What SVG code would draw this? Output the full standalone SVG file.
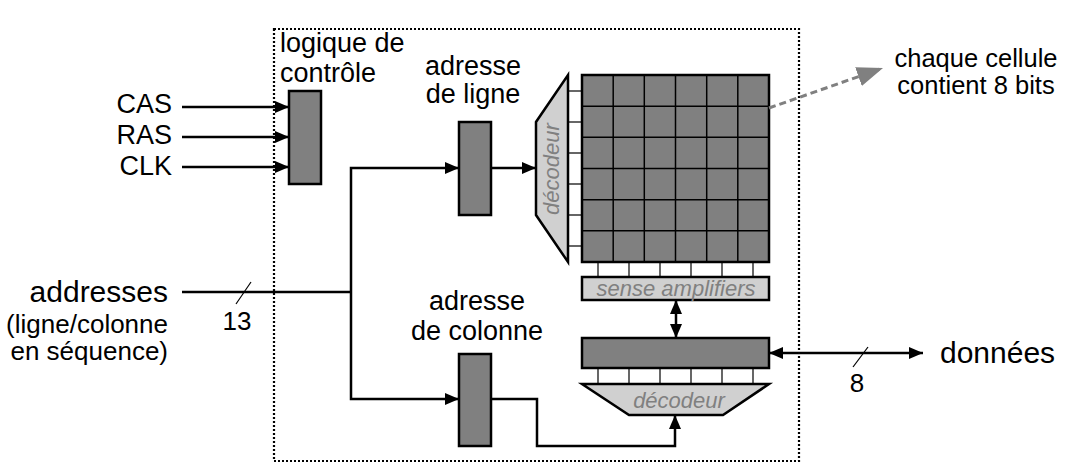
<svg xmlns="http://www.w3.org/2000/svg" width="1070" height="473" viewBox="0 0 1070 473">
<defs>
<style>
.t{font-family:"Liberation Sans",Arial,sans-serif;fill:#000;}
.blk{fill:#808080;stroke:#000;stroke-width:2.5;}
.dec{fill:#d0d0d0;stroke:#000;stroke-width:2.5;}
.it{font-family:"Liberation Sans",Arial,sans-serif;font-style:italic;fill:#808080;font-size:22px;}
.w{fill:none;stroke:#000;stroke-width:2.5;}
.thin{fill:none;stroke:#000;stroke-width:1.2;}
.g{stroke:#000;stroke-width:1.5;}
</style>
<marker id="arr" viewBox="0 0 14 12" refX="14" refY="6" markerWidth="14" markerHeight="12" orient="auto-start-reverse" markerUnits="userSpaceOnUse"><path d="M0,0 L14,6 L0,12 z" fill="#000"/></marker>
<marker id="garr" viewBox="0 0 26 20" refX="26" refY="10" markerWidth="26" markerHeight="20" orient="auto" markerUnits="userSpaceOnUse"><path d="M0,0 L26,10 L0,20 z" fill="#808080"/></marker>
</defs>
<rect width="1070" height="473" fill="#fff"/>

<g id="boundary">
<rect x="274" y="29" width="525" height="432" fill="none" stroke="#000" stroke-width="2.2" stroke-dasharray="2 2"/>
</g>

<g id="inputs">
<text class="t" x="172" y="113" font-size="27" text-anchor="end">CAS</text>
<text class="t" x="172" y="144" font-size="27" text-anchor="end">RAS</text>
<text class="t" x="172" y="175" font-size="27" text-anchor="end">CLK</text>
</g>

<g id="addresses-label">
<text class="t" x="168" y="302" font-size="30" text-anchor="end">addresses</text>
<text class="t" x="168" y="333" font-size="26" text-anchor="end">(ligne/colonne</text>
<text class="t" x="168" y="360" font-size="26" text-anchor="end">en séquence)</text>
<text class="t" x="237" y="330" font-size="26" text-anchor="middle">13</text>
</g>

<g id="control-logic">
<rect class="blk" x="289" y="91" width="32" height="93"/>
<text class="t" x="280" y="52" font-size="27">logique de</text>
<text class="t" x="280" y="82" font-size="27">contrôle</text>
</g>

<g id="row-address">
<rect class="blk" x="459" y="122" width="32" height="93"/>
<text class="t" x="473" y="75" font-size="27" text-anchor="middle">adresse</text>
<text class="t" x="473" y="103" font-size="27" text-anchor="middle">de ligne</text>
</g>

<g id="column-address">
<rect class="blk" x="459" y="354" width="32" height="92"/>
<text class="t" x="477" y="310" font-size="27" text-anchor="middle">adresse</text>
<text class="t" x="477" y="340" font-size="27" text-anchor="middle">de colonne</text>
</g>

<g id="row-decoder">
<g class="thin">
<line x1="568" y1="91" x2="582" y2="91"/>
<line x1="568" y1="122" x2="582" y2="122"/>
<line x1="568" y1="153" x2="582" y2="153"/>
<line x1="568" y1="184" x2="582" y2="184"/>
<line x1="568" y1="215" x2="582" y2="215"/>
<line x1="568" y1="246" x2="582" y2="246"/>
</g>
<path class="dec" d="M568,75 L568,262 L536,215 L536,122 Z"/>
<text class="it" transform="translate(559,169) rotate(-90)" text-anchor="middle">décodeur</text>
</g>

<g id="cell-array">
<rect x="582" y="75" width="187" height="187" fill="#808080"/>
<g class="g">
<line x1="613.2" y1="75" x2="613.2" y2="262"/>
<line x1="644.3" y1="75" x2="644.3" y2="262"/>
<line x1="675.5" y1="75" x2="675.5" y2="262"/>
<line x1="706.7" y1="75" x2="706.7" y2="262"/>
<line x1="737.8" y1="75" x2="737.8" y2="262"/>
<line x1="582" y1="106.2" x2="769" y2="106.2"/>
<line x1="582" y1="137.3" x2="769" y2="137.3"/>
<line x1="582" y1="168.5" x2="769" y2="168.5"/>
<line x1="582" y1="199.7" x2="769" y2="199.7"/>
<line x1="582" y1="230.8" x2="769" y2="230.8"/>
</g>
<rect x="582" y="75" width="187" height="187" fill="none" stroke="#000" stroke-width="2.5"/>
</g>

<g id="sense-amplifiers">
<g class="thin">
<line x1="598" y1="262" x2="598" y2="277"/>
<line x1="629" y1="262" x2="629" y2="277"/>
<line x1="660" y1="262" x2="660" y2="277"/>
<line x1="691" y1="262" x2="691" y2="277"/>
<line x1="722" y1="262" x2="722" y2="277"/>
<line x1="753" y1="262" x2="753" y2="277"/>
</g>
<rect class="dec" x="582" y="277" width="187" height="23"/>
<text class="it" x="676" y="296" text-anchor="middle">sense amplifiers</text>
</g>

<g id="data-register">
<rect class="blk" x="582" y="338" width="187" height="30"/>
</g>

<g id="column-decoder">
<g class="thin">
<line x1="598" y1="368" x2="598" y2="384"/>
<line x1="629" y1="368" x2="629" y2="384"/>
<line x1="660" y1="368" x2="660" y2="384"/>
<line x1="691" y1="368" x2="691" y2="384"/>
<line x1="722" y1="368" x2="722" y2="384"/>
<line x1="753" y1="368" x2="753" y2="384"/>
</g>
<path class="dec" d="M582,384 L769,384 L723,415 L629,415 Z"/>
<text class="it" x="679" y="408" text-anchor="middle">décodeur</text>
</g>

<g id="note">
<text class="t" x="976" y="67" font-size="25.5" text-anchor="middle">chaque cellule</text>
<text class="t" x="976" y="94" font-size="25.5" text-anchor="middle">contient 8 bits</text>
</g>

<g id="data-out">
<text class="t" x="940" y="363" font-size="30">données</text>
<text class="t" x="857" y="392" font-size="26" text-anchor="middle">8</text>
</g>

<g id="connectors">
<line class="w" x1="182" y1="107" x2="289" y2="107" marker-end="url(#arr)"/>
<line class="w" x1="182" y1="137" x2="289" y2="137" marker-end="url(#arr)"/>
<line class="w" x1="182" y1="167" x2="289" y2="167" marker-end="url(#arr)"/>
<line class="w" x1="182" y1="292" x2="351" y2="292"/>
<line x1="236" y1="304" x2="251" y2="282" stroke="#000" stroke-width="1.2"/>
<path class="w" d="M459,168 L351,168 L351,399 L459,399" marker-start="url(#arr)" marker-end="url(#arr)"/>
<line class="w" x1="491" y1="168" x2="536" y2="168" marker-end="url(#arr)"/>
<path class="w" d="M491,399 L537,399 L537,446 L675,446 L675,415" marker-end="url(#arr)"/>
<line class="w" x1="676" y1="300" x2="676" y2="338" marker-start="url(#arr)" marker-end="url(#arr)"/>
<line class="w" x1="769" y1="353" x2="923" y2="353" marker-start="url(#arr)" marker-end="url(#arr)"/>
<line x1="853" y1="367" x2="868" y2="347" stroke="#000" stroke-width="1.2"/>
<line x1="769" y1="108" x2="883" y2="68" stroke="#808080" stroke-width="3" stroke-dasharray="7 4" marker-end="url(#garr)"/>
</g>
</svg>
